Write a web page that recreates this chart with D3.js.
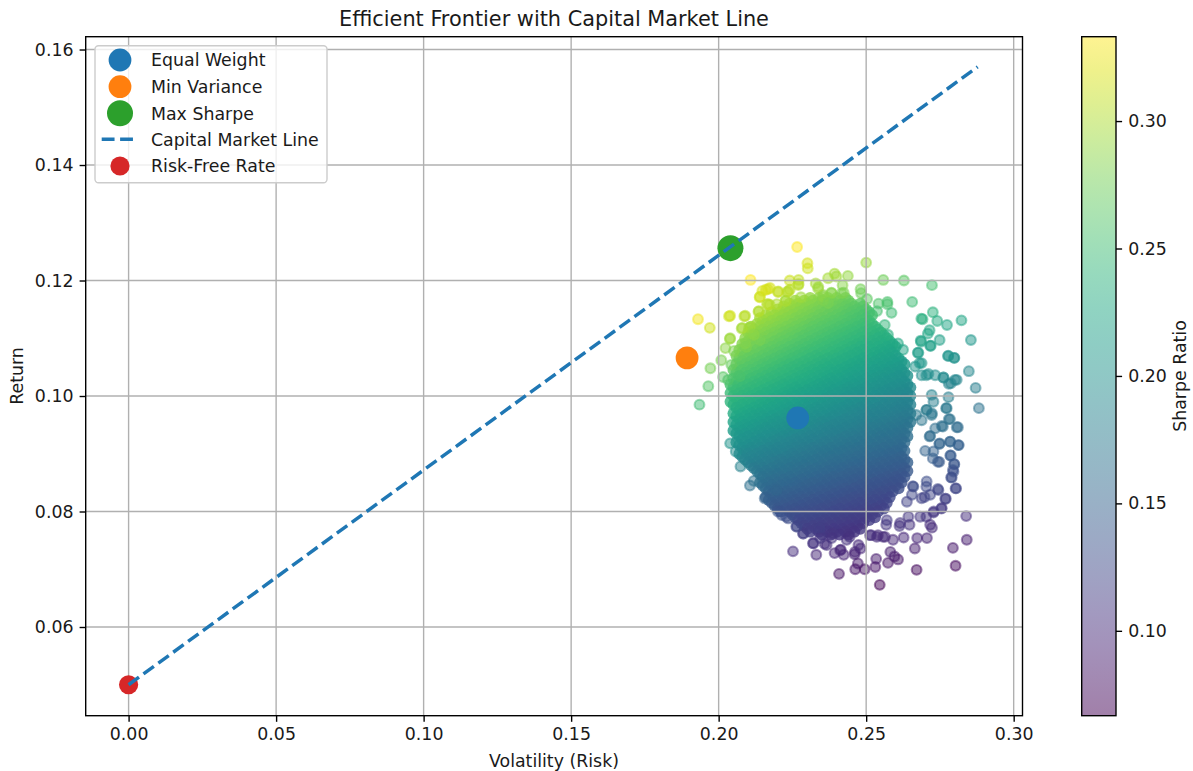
<!DOCTYPE html>
<html><head><meta charset="utf-8">
<script src="https://cdn.jsdelivr.net/npm/d3@7/dist/d3.min.js"></script>
<style>html,body{margin:0;padding:0;background:#fff}svg{display:block}text{font-family:"DejaVu Sans",sans-serif;fill:#1a1a1a}</style>
</head><body><svg id="c" width="1193" height="771"></svg>
<script>
const xTicks=[0,0.05,0.10,0.15,0.20,0.25,0.30];
const yTicks=[0.06,0.08,0.10,0.12,0.14,0.16];
const cTicks=[0.10,0.15,0.20,0.25,0.30];
const riskFree=0.05;
const equalWeight=[0.2268,0.0962];
const minVariance=[0.1893,0.1066];
const maxSharpe=[0.2040,0.1256];
const cmlVol=[0,0.2878];
const cmlRet=[0.05,0.1570];
const legendNames=["Equal Weight","Min Variance","Max Sharpe","Capital Market Line","Risk-Free Rate"];

// Portfolio cloud: dense core, one row per return level (1e-4), volatilities in 1e-3
const coreReturns=[1170,1165,1160,1155,1150,1145,1140,1135,1130,1125,1120,1115,1110,1105,1100,1095,1090,1085,1080,1075,1070,1065,1060,1055,1050,1045,1040,1035,1030,1025,1020,1015,1010,1005,1000,995,990,985,980,975,970,965,960,955,950,945,940,935,930,925,920,915,910,905,900,895,890,885,880,875,870,865,860,855,850,845,840,835,830,825,820,815,810,805,800,795,790,785,780,775,770,765,760];
const coreVols=[
[231,234,237,240,243],
[226,229,232,235,238,241,244],
[224,227,230,233,236,239,242,245,248],
[222,225,228,231,234,237,240,243,246,249],
[220,223,226,229,232,235,238,241,244,247,250],
[218,221,224,227,230,233,236,239,242,245,248,251],
[216,219,222,225,228,231,234,237,240,243,246,249,252],
[214,217,220,223,226,229,232,235,238,241,244,247,250],
[215,218,221,224,227,230,233,236,239,242,245,248,251],
[213,216,219,222,225,228,231,234,237,240,243,246,249,252],
[211,214,217,220,223,226,229,232,235,238,241,244,247,250,253],
[212,215,218,221,224,227,230,233,236,239,242,245,248,251,254],
[210,213,216,219,222,225,228,231,234,237,240,243,246,249,252,255],
[211,214,217,220,223,226,229,232,235,238,241,244,247,250,253,256],
[209,212,215,218,221,224,227,230,233,236,239,242,245,248,251,254,257],
[210,213,216,219,222,225,228,231,234,237,240,243,246,249,252,255,258],
[208,211,214,217,220,223,226,229,232,235,238,241,244,247,250,253,256,259],
[209,212,215,218,221,224,227,230,233,236,239,242,245,248,251,254,257,260],
[207,210,213,216,219,222,225,228,231,234,237,240,243,246,249,252,255,258],
[208,211,214,217,220,223,226,229,232,235,238,241,244,247,250,253,256,259],
[206,209,212,215,218,221,224,227,230,233,236,239,242,245,248,251,254,257,260],
[207,210,213,216,219,222,225,228,231,234,237,240,243,246,249,252,255,258,261],
[208,211,214,217,220,223,226,229,232,235,238,241,244,247,250,253,256,259,262],
[206,209,212,215,218,221,224,227,230,233,236,239,242,245,248,251,254,257,260,263],
[207,210,213,216,219,222,225,228,231,234,237,240,243,246,249,252,255,258,261],
[205,208,211,214,217,220,223,226,229,232,235,238,241,244,247,250,253,256,259,262],
[206,209,212,215,218,221,224,227,230,233,236,239,242,245,248,251,254,257,260,263],
[207,210,213,216,219,222,225,228,231,234,237,240,243,246,249,252,255,258,261,264],
[205,208,211,214,217,220,223,226,229,232,235,238,241,244,247,250,253,256,259,262],
[206,209,212,215,218,221,224,227,230,233,236,239,242,245,248,251,254,257,260,263],
[204,207,210,213,216,219,222,225,228,231,234,237,240,243,246,249,252,255,258,261,264],
[205,208,211,214,217,220,223,226,229,232,235,238,241,244,247,250,253,256,259,262,265],
[206,209,212,215,218,221,224,227,230,233,236,239,242,245,248,251,254,257,260,263],
[204,207,210,213,216,219,222,225,228,231,234,237,240,243,246,249,252,255,258,261,264],
[205,208,211,214,217,220,223,226,229,232,235,238,241,244,247,250,253,256,259,262,265],
[206,209,212,215,218,221,224,227,230,233,236,239,242,245,248,251,254,257,260,263],
[204,207,210,213,216,219,222,225,228,231,234,237,240,243,246,249,252,255,258,261,264],
[205,208,211,214,217,220,223,226,229,232,235,238,241,244,247,250,253,256,259,262,265],
[206,209,212,215,218,221,224,227,230,233,236,239,242,245,248,251,254,257,260,263],
[207,210,213,216,219,222,225,228,231,234,237,240,243,246,249,252,255,258,261,264],
[205,208,211,214,217,220,223,226,229,232,235,238,241,244,247,250,253,256,259,262,265],
[206,209,212,215,218,221,224,227,230,233,236,239,242,245,248,251,254,257,260,263],
[207,210,213,216,219,222,225,228,231,234,237,240,243,246,249,252,255,258,261,264],
[205,208,211,214,217,220,223,226,229,232,235,238,241,244,247,250,253,256,259,262,265],
[206,209,212,215,218,221,224,227,230,233,236,239,242,245,248,251,254,257,260,263],
[207,210,213,216,219,222,225,228,231,234,237,240,243,246,249,252,255,258,261,264],
[205,208,211,214,217,220,223,226,229,232,235,238,241,244,247,250,253,256,259,262],
[206,209,212,215,218,221,224,227,230,233,236,239,242,245,248,251,254,257,260,263],
[207,210,213,216,219,222,225,228,231,234,237,240,243,246,249,252,255,258,261,264],
[208,211,214,217,220,223,226,229,232,235,238,241,244,247,250,253,256,259,262],
[206,209,212,215,218,221,224,227,230,233,236,239,242,245,248,251,254,257,260,263],
[207,210,213,216,219,222,225,228,231,234,237,240,243,246,249,252,255,258,261],
[208,211,214,217,220,223,226,229,232,235,238,241,244,247,250,253,256,259,262],
[209,212,215,218,221,224,227,230,233,236,239,242,245,248,251,254,257,260,263],
[207,210,213,216,219,222,225,228,231,234,237,240,243,246,249,252,255,258,261],
[208,211,214,217,220,223,226,229,232,235,238,241,244,247,250,253,256,259,262],
[209,212,215,218,221,224,227,230,233,236,239,242,245,248,251,254,257,260,263],
[210,213,216,219,222,225,228,231,234,237,240,243,246,249,252,255,258,261,264],
[211,214,217,220,223,226,229,232,235,238,241,244,247,250,253,256,259,262],
[212,215,218,221,224,227,230,233,236,239,242,245,248,251,254,257,260,263],
[213,216,219,222,225,228,231,234,237,240,243,246,249,252,255,258,261,264],
[214,217,220,223,226,229,232,235,238,241,244,247,250,253,256,259,262],
[215,218,221,224,227,230,233,236,239,242,245,248,251,254,257,260,263],
[216,219,222,225,228,231,234,237,240,243,246,249,252,255,258,261],
[214,217,220,223,226,229,232,235,238,241,244,247,250,253,256,259,262],
[215,218,221,224,227,230,233,236,239,242,245,248,251,254,257,260],
[216,219,222,225,228,231,234,237,240,243,246,249,252,255,258,261],
[217,220,223,226,229,232,235,238,241,244,247,250,253,256,259],
[218,221,224,227,230,233,236,239,242,245,248,251,254,257],
[216,219,222,225,228,231,234,237,240,243,246,249,252,255,258],
[217,220,223,226,229,232,235,238,241,244,247,250,253,256],
[218,221,224,227,230,233,236,239,242,245,248,251,254,257],
[219,222,225,228,231,234,237,240,243,246,249,252,255],
[220,223,226,229,232,235,238,241,244,247,250,253,256],
[221,224,227,230,233,236,239,242,245,248,251,254],
[225,228,231,234,237,240,243,246,249,252],
[226,229,232,235,238,241,244,247,250,253],
[227,230,233,236,239,242,245,248,251],
[228,231,234,237,240,243,246,249],
[229,232,235,238,241,244,247],
[230,233,236,239,242,245,248],
[231,234,237,240,243,246],
[235,238,241,244]
];
// Portfolio cloud: individually visible outer points
const outerVol=[.2266,.2301,.2302,.2108,.2500,.2241,.2271,.2271,.2371,.2393,.2399,.2438,.2420,.2424,.2329,.2337,.2558,.2628,.2723,.2656,.2167,.2148,.2139,.2201,.2232,.2241,.2354,.2382,.2354,.2481,.2483,.2503,.2542,.2572,.2572,.2537,.2586,.2726,.2741,.2691,.2687,.2774,.2823,.2715,.2709,.2749,.2685,.2717,.2855,.2675,.2778,.2799,.2848,.2871,.2780,.2801,.2762,.2704,.1930,.1970,.2035,.2087,.2080,.2103,.2117,.2038,.2023,.2052,.2094,.2009,.2043,.1972,.2015,.2032,.1965,.2136,.2173,.2164,.2227,.2071,.2563,.2574,.2608,.2625,.2681,
.1935,.2039,.2058,.2074,.2106,.2119,.2252,.2331,.2393,.2414,.2424,.2461,.2481,.2472,.2463,.2495,.2531,.2534,.2574,.2582,.2596,.2608,.2408,.2546,.2671,.2803,.2794,.2841,.2665,.2673,.2706,.2627,.2723,.2839,.2755,.2729,.2768,.2803,.2743,.2788,.2794,.2799,.2785,.2814,.2785,.2749,.2811,.2780,.2760,.2715,.2771,.2882,.2723,.2670,.2704,.2743,.2726,.2698,.2704,.2658,.2704,.2647,.2613,.2568,.2540,.2591,.2557,.2517,.2320,.2359,.2286,.2263,.2229,.2201,.2156,.2196,.2444,.2387,.2342,
.2686,.2719,.2677,.2778,.2798,.2688,.2666,.2711,.2688,.2734,.2762,.2787,.2807,.2722,.2779,.2728,.2773,.2705,.2722,.2784,.2688,.2756,.2734,.2807,.2717,.2748,.2784,.2812,.2728,.2700,.2748,.2787,.2798,.2796,.2790,.2705,.2745,.2805,.2770,.2717,.2688,.2660,.2756,.2728,.2683,.2643,.2717,.2615,.2570,.2655,.2638,
.2321,.2366,.2412,.2462,.2536,.2564,.2287,.2265,.2344,.2383,.2434,.2474,.2513,.2236,.2214,
.2039,.2090,.2140,.2160,.2174,.2168,.2135,.2106,.2078,.2039,.2090,.2202,.2227,.2236,.2270,.2338,.2355,.2383,.2417,.2279,.2371,.2197,.2140,.2120];
const outerRet=[.1258,.1230,.1221,.1201,.1231,.1200,.1201,.1194,.1204,.1212,.1207,.1208,.1192,.1179,.1195,.1186,.1201,.1200,.1192,.1163,.1185,.1182,.1171,.1180,.1180,.1184,.1175,.1179,.1166,.1185,.1178,.1168,.1160,.1163,.1159,.1147,.1144,.1145,.1130,.1133,.1134,.1123,.1131,.1114,.1108,.1097,.1096,.1087,.1097,.1075,.1069,.1066,.1043,.1014,.1021,.1028,.1032,.1036,.1133,.1118,.1138,.1138,.1118,.1118,.1108,.1099,.1083,.1078,.1085,.1062,.1054,.1048,.1033,.1028,.1017,.1147,.1158,.1159,.1165,.1034,.1123,.1106,.1091,.1080,.1057,
.0985,.0918,.0904,.0878,.0845,.0853,.0731,.0725,.0728,.0734,.0725,.0726,.0736,.0710,.0700,.0700,.0704,.0718,.0711,.0730,.0722,.0717,.0692,.0673,.0699,.0706,.0737,.0751,.0736,.0754,.0754,.0755,.0772,.0792,.0805,.0800,.0822,.0840,.0839,.0859,.0872,.0882,.0897,.0915,.0921,.0918,.0946,.0960,.0947,.0930,.0979,.0979,.0970,.0967,.0976,.0886,.0892,.0825,.0843,.0844,.0791,.0777,.0775,.0777,.0759,.0751,.0756,.0759,.0745,.0744,.0762,.0774,.0791,.0800,.0823,.0837,.0756,.0762,.0771,
.1094,.1087,.1075,.1070,.1066,.1057,.1051,.1038,.1036,.1036,.1032,.1022,.1028,.1002,.0998,.0990,.0979,.0976,.0967,.0960,.0958,.0948,.0944,.0946,.0931,.0917,.0921,.0915,.0904,.0905,.0886,.0897,.0882,.0869,.0859,.0852,.0837,.0840,.0822,.0829,.0823,.0843,.0806,.0798,.0791,.0791,.0777,.0780,.0785,.0829,.0817,
.0745,.0742,.0733,.0730,.0756,.0756,.0762,.0774,.0754,.0754,.0751,.0742,.0759,.0788,.0794,
.1139,.1139,.1172,.1184,.1187,.1159,.1146,.1119,.1117,.1100,.1091,.1181,.1165,.1181,.1192,.1189,.1172,.1178,.1178,.1171,.1161,.1159,.1097,.1106];

const core=[];
coreVols.forEach((row,i)=>row.forEach(v=>core.push({vol:v/1000,ret:coreReturns[i]/10000})));
const outer=outerVol.map((v,i)=>({vol:v,ret:outerRet[i]}));

const L=85.7,R=1022.5,T=36.7,B=715.7,CL=1081.7,CR=1116;
const x=d3.scaleLinear().domain([-0.01454,0.30299]).range([L,R]);
const y=d3.scaleLinear().domain([0.04464,0.16222]).range([B,T]);
const cy=d3.scaleLinear().domain([0.0667,0.3331]).range([B,T]);
const colour=v=>d3.interpolateViridis((v-0.0667)/(0.3331-0.0667));
const sharpe=d=>(d.ret-riskFree)/d.vol;
const svg=d3.select("#c");
const FS=17.36, LW=1.39, TL=6.1;

// scatter (under grid)
svg.append("g").selectAll("circle").data(core).join("circle")
 .attr("cx",d=>x(d.vol)).attr("cy",d=>y(d.ret)).attr("r",5.9)
 .attr("fill",d=>colour(sharpe(d))).attr("fill-opacity",.8);
svg.append("g").selectAll("circle").data(outer).join("circle")
 .attr("cx",d=>x(d.vol)).attr("cy",d=>y(d.ret)).attr("r",4.9)
 .attr("fill",d=>colour(sharpe(d))).attr("fill-opacity",.5)
 .attr("stroke",d=>colour(sharpe(d))).attr("stroke-opacity",.5).attr("stroke-width",2.08);

// grid
const grid=svg.append("g").attr("stroke","#b0b0b0").attr("stroke-width",LW);
grid.selectAll(".gx").data(xTicks).join("line").attr("x1",d=>x(d)).attr("x2",d=>x(d)).attr("y1",T).attr("y2",B);
grid.selectAll(".gy").data(yTicks).join("line").attr("y1",d=>y(d)).attr("y2",d=>y(d)).attr("x1",L).attr("x2",R);

// special markers
const markers=[[equalWeight,"#1f77b4",11.4],[minVariance,"#ff7f0e",11.4],[maxSharpe,"#2ca02c",13],[[0,riskFree],"#d62728",9.6]];
svg.append("g").selectAll("circle").data(markers).join("circle")
 .attr("cx",d=>x(d[0][0])).attr("cy",d=>y(d[0][1])).attr("r",d=>d[2]).attr("fill",d=>d[1]);

// capital market line
const dash="12.85,5.55";
svg.append("path").datum(d3.zip(cmlVol,cmlRet))
 .attr("d",d3.line().x(d=>x(d[0])).y(d=>y(d[1])))
 .attr("fill","none").attr("stroke","#1f77b4").attr("stroke-width",3.47).attr("stroke-dasharray",dash);

// axes
function style(sel){sel.select(".domain").remove();
 sel.selectAll(".tick line").attr("stroke","#000").attr("stroke-width",LW);
 sel.selectAll(".tick text").attr("font-size",FS).attr("fill","#1a1a1a").style("font-family",'"DejaVu Sans"');}
svg.append("g").attr("transform",`translate(0,${B})`)
 .call(d3.axisBottom(x).tickValues(xTicks).tickFormat(d3.format(".2f")).tickSize(TL).tickPadding(TL)).call(style);
svg.append("g").attr("transform",`translate(${L},0)`)
 .call(d3.axisLeft(y).tickValues(yTicks).tickFormat(d3.format(".2f")).tickSize(TL).tickPadding(TL)).call(style);
svg.append("rect").attr("x",L).attr("y",T).attr("width",R-L).attr("height",B-T).attr("fill","none").attr("stroke","#000").attr("stroke-width",LW);

// colorbar
const defs=svg.append("defs");
const lg=defs.append("linearGradient").attr("id","vir").attr("x1",0).attr("x2",0).attr("y1",1).attr("y2",0);
d3.range(0,1.0001,0.05).forEach(t=>lg.append("stop").attr("offset",t).attr("stop-color",d3.interpolateViridis(t)));
svg.append("rect").attr("x",CL).attr("y",T).attr("width",CR-CL).attr("height",B-T).attr("fill","url(#vir)").attr("fill-opacity",.5);
svg.append("g").attr("transform",`translate(${CR},0)`)
 .call(d3.axisRight(cy).tickValues(cTicks).tickFormat(d3.format(".2f")).tickSize(TL).tickPadding(TL)).call(style);
svg.append("rect").attr("x",CL).attr("y",T).attr("width",CR-CL).attr("height",B-T).attr("fill","none").attr("stroke","#000").attr("stroke-width",LW);

// legend
svg.append("rect").attr("x",95).attr("y",45.7).attr("width",232).attr("height",137).attr("rx",3.5)
 .attr("fill","#fff").attr("fill-opacity",.8).attr("stroke","#ccc").attr("stroke-width",LW);
const ly=[60,86.7,113.3,139.3,166];
const leg=svg.append("g");
leg.selectAll("text").data(legendNames).join("text").attr("x",151).attr("y",(d,i)=>ly[i]).attr("dy","0.36em").attr("font-size",FS).text(d=>d);
const lm=[["#1f77b4",11.4,0],["#ff7f0e",11.4,1],["#2ca02c",13,2],["#d62728",9.6,4]];
leg.selectAll("circle").data(lm).join("circle").attr("cx",120).attr("cy",d=>ly[d[2]]).attr("r",d=>d[1]).attr("fill",d=>d[0]);
leg.append("line").attr("x1",101.7).attr("x2",134).attr("y1",ly[3]).attr("y2",ly[3]).attr("stroke","#1f77b4").attr("stroke-width",3.47).attr("stroke-dasharray",dash);

// titles
svg.append("text").attr("x",554).attr("y",19).attr("dy","0.36em").attr("text-anchor","middle").attr("font-size",20.83).text("Efficient Frontier with Capital Market Line");
svg.append("text").attr("x",554).attr("y",761).attr("dy","0.36em").attr("text-anchor","middle").attr("font-size",FS).text("Volatility (Risk)");
svg.append("text").attr("transform","translate(17,376) rotate(-90)").attr("dy","0.36em").attr("text-anchor","middle").attr("font-size",FS).text("Return");
svg.append("text").attr("transform","translate(1180,376) rotate(-90)").attr("dy","0.36em").attr("text-anchor","middle").attr("font-size",FS).text("Sharpe Ratio");
</script></body></html>
